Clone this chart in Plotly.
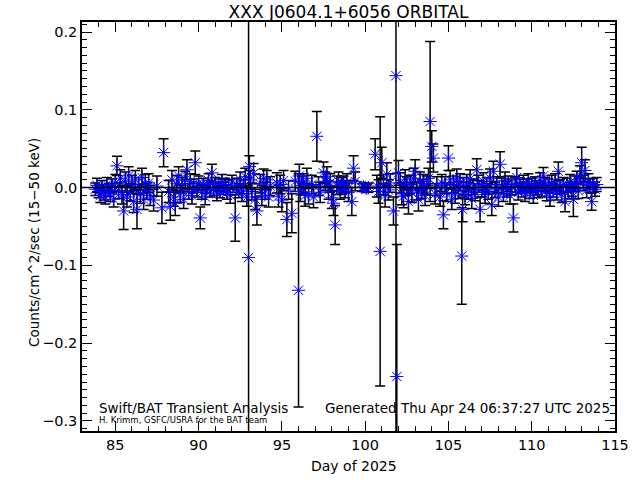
import plotly.graph_objects as go

# Day of 2025
days = [
    83.8, 83.9, 84.0, 84.1, 84.2, 84.3, 84.4, 84.5, 84.6, 84.7, 84.8, 84.9, 85.0, 85.1, 85.2, 85.3,
    85.4, 85.5, 85.6, 85.7, 85.8, 85.9, 86.0, 86.1, 86.2, 86.3, 86.4, 86.5, 86.6, 86.7, 86.8, 86.9,
    87.0, 87.1, 87.3, 87.5, 87.8, 87.9, 88.2, 88.3, 88.4,
    88.5, 88.6, 88.7, 88.8, 88.9, 89.0, 89.1, 89.2, 89.3, 89.4, 89.5, 89.6, 89.7, 89.8, 89.9, 90.0,
    90.1, 90.2, 90.3, 90.4, 90.5, 90.6, 90.7, 90.8, 90.9, 91.0, 91.1, 91.2, 91.3, 91.4, 91.5, 91.6,
    91.7, 91.8, 91.9, 92.0, 92.2, 92.3, 92.4, 92.5, 92.6, 92.7, 92.8, 92.9, 93.0, 93.05, 93.1, 93.2,
    93.3, 93.4, 93.5,
    93.7, 93.8, 93.9, 94.0, 94.1, 94.2, 94.3, 94.7, 94.8, 94.9, 95.0, 95.1, 95.3, 95.4, 95.6, 95.8,
    96.0, 96.05, 96.1, 96.2, 96.3, 96.4, 96.5, 96.6, 96.8, 96.9, 97.1, 97.2, 97.3, 97.5, 97.6, 97.7,
    97.8, 97.9, 98.0, 98.1, 98.2, 98.3, 98.4, 98.5, 98.6, 98.7, 98.8, 98.9, 99.0, 99.2, 99.3, 99.4,
    99.8, 99.9, 100.0, 100.1, 100.2, 100.6, 100.7, 100.8, 100.9, 101.0, 101.1, 101.2, 101.3, 101.4,
    101.5, 101.7, 101.85, 101.9, 102.0, 102.1, 102.2, 102.3, 102.4, 102.5, 102.6, 102.7, 102.8, 102.9,
    103.0, 103.1, 103.2, 103.3, 103.4, 103.5, 103.6, 103.7, 103.8, 103.9, 104.0, 104.1, 104.2, 104.3,
    104.5, 104.6, 104.7, 104.8, 104.9, 105.0, 105.1, 105.2, 105.3, 105.4, 105.5, 105.6, 105.7, 105.8,
    105.85, 105.9, 106.0, 106.1, 106.2, 106.3, 106.4, 106.5, 106.6, 106.7, 106.8, 106.9, 107.0, 107.1,
    107.2, 107.3, 107.4, 107.5, 107.6, 107.7, 107.8, 107.9, 108.0, 108.1, 108.2, 108.3, 108.4, 108.5,
    108.6, 108.7, 108.8, 108.9, 109.0, 109.1, 109.2, 109.3, 109.4, 109.5, 109.6, 109.7, 109.8, 109.9,
    110.0, 110.1, 110.2, 110.3, 110.4, 110.5, 110.6, 110.7, 110.8, 110.9, 111.0, 111.1, 111.2, 111.3,
    111.4, 111.5, 111.6, 111.7, 111.8, 111.9, 112.0, 112.1, 112.2, 112.3, 112.4, 112.5, 112.6, 112.7,
    112.8, 112.9, 113.0, 113.1, 113.2, 113.3, 113.4, 113.5, 113.6, 113.7, 113.8, 113.9,
]

# Counts/cm^2/sec (15-50 keV)
rates = [
    -0.002, 0.003, -0.005, -0.010, 0.001, -0.006, -0.012, 0.004, -0.003, -0.008, 0.002, -0.015, 0.006, 0.028, -0.004, 0.012,
    -0.009, -0.030, 0.008, -0.012, 0.015, -0.006, 0.004, -0.018, 0.010, -0.028, 0.002, -0.008, 0.013, -0.015, 0.005, -0.004,
    0.006, -0.010, -0.016, 0.002, -0.026, 0.045, -0.005, -0.024, 0.010,
    -0.012, -0.020, 0.005, 0.015, -0.008, 0.003, -0.015, 0.010, 0.023, -0.005, 0.008, -0.010, 0.002, 0.032, -0.003, 0.006,
    -0.039, -0.006, 0.004, -0.012, 0.001, 0.009, -0.004, 0.019, -0.002, 0.005, -0.008, 0.003, -0.005, 0.008, -0.001, 0.004,
    -0.006, 0.002, -0.010, 0.007, -0.039, 0.003, -0.004, 0.010, -0.008, 0.001, 0.014, -0.012, -0.090, 0.027, 0.010, -0.005,
    0.018, -0.015, -0.030,
    0.005, -0.010, 0.012, -0.004, 0.010, -0.012, 0.002, 0.006, -0.011, 0.004, -0.016, 0.009, -0.041, -0.003, -0.033, 0.008,
    -0.132, 0.015, -0.005, 0.003, 0.006, -0.010, 0.012, -0.008, 0.004, -0.012, 0.066, 0.002, -0.006, 0.019, 0.008, 0.014,
    -0.003, 0.006, -0.013, -0.020, -0.048, 0.003, 0.008, -0.004, 0.002, 0.004, -0.002, 0.006, -0.006, -0.018, 0.025, 0.008,
    0.000, 0.001, 0.000, -0.001, 0.000, 0.043, 0.002, -0.005, -0.082, 0.032, 0.004, -0.010, 0.017, -0.003,
    0.006, -0.030, 0.144, -0.243, 0.019, 0.006, -0.008, -0.011, 0.010, 0.002, -0.018, 0.004, -0.006, 0.012,
    0.021, -0.004, -0.015, 0.008, -0.002, 0.005, -0.010, 0.003, 0.012, 0.085, 0.053, 0.038, -0.008, 0.002,
    -0.012, 0.006, -0.035, 0.003, -0.006, 0.038, 0.010, -0.015, 0.004, -0.008, 0.012, -0.003, 0.007, -0.088,
    -0.028, 0.002, -0.010, 0.006, -0.004, 0.011, -0.014, 0.001, -0.006, 0.023, 0.005, -0.028, -0.002, 0.008,
    -0.009, 0.003, -0.005, 0.012, -0.022, 0.021, -0.003, 0.004, -0.012, 0.030, 0.002, -0.007, 0.009, -0.002,
    0.005, -0.010, 0.001, -0.039, 0.004, 0.013, -0.006, 0.002, -0.003, 0.006, -0.008, 0.002, 0.008, -0.005,
    0.003, -0.010, 0.005, 0.000, -0.004, 0.009, -0.002, 0.015, 0.004, -0.007, 0.002, -0.013, 0.006, -0.003,
    0.008, -0.006, 0.021, 0.001, -0.009, 0.004, -0.018, 0.003, -0.005, 0.007, -0.002, -0.015, 0.005, 0.010,
    -0.004, 0.016, 0.032, 0.006, 0.022, -0.003, 0.008, 0.002, -0.018, 0.003, -0.002, 0.004,
]

# 1-sigma errors
errors = [
    0.008, 0.009, 0.008, 0.009, 0.008, 0.010, 0.009, 0.009, 0.008, 0.010, 0.009, 0.010, 0.011, 0.0125, 0.010, 0.011,
    0.012, 0.024, 0.012, 0.013, 0.012, 0.011, 0.012, 0.014, 0.012, 0.025, 0.011, 0.012, 0.012, 0.013, 0.012, 0.011,
    0.012, 0.013, 0.014, 0.013, 0.020, 0.018, 0.014, 0.018, 0.012,
    0.012, 0.016, 0.011, 0.012, 0.011, 0.010, 0.012, 0.011, 0.013, 0.010, 0.010, 0.011, 0.009, 0.015, 0.009, 0.009,
    0.014, 0.009, 0.008, 0.010, 0.008, 0.009, 0.008, 0.011, 0.008, 0.008, 0.009, 0.008, 0.008, 0.009, 0.008, 0.008,
    0.009, 0.008, 0.010, 0.009, 0.030, 0.009, 0.009, 0.010, 0.010, 0.009, 0.011, 0.012, 0.36, 0.014, 0.012, 0.011,
    0.013, 0.013, 0.018,
    0.012, 0.013, 0.012, 0.011, 0.012, 0.013, 0.012, 0.013, 0.014, 0.012, 0.015, 0.013, 0.022, 0.012, 0.025, 0.013,
    0.150, 0.015, 0.013, 0.012, 0.012, 0.014, 0.013, 0.013, 0.012, 0.014, 0.032, 0.012, 0.013, 0.014, 0.012, 0.013,
    0.012, 0.012, 0.014, 0.016, 0.025, 0.012, 0.012, 0.011, 0.011, 0.011, 0.011, 0.012, 0.012, 0.018, 0.016, 0.012,
    0.005, 0.005, 0.005, 0.005, 0.006, 0.020, 0.014, 0.015, 0.173, 0.020, 0.013, 0.015, 0.015, 0.013,
    0.012, 0.018, 0.470, 0.170, 0.016, 0.013, 0.014, 0.015, 0.013, 0.012, 0.016, 0.012, 0.013, 0.013,
    0.015, 0.012, 0.015, 0.012, 0.012, 0.012, 0.013, 0.012, 0.013, 0.103, 0.020, 0.018, 0.013, 0.012,
    0.012, 0.011, 0.018, 0.011, 0.012, 0.016, 0.012, 0.013, 0.011, 0.012, 0.012, 0.011, 0.011, 0.062,
    0.016, 0.011, 0.012, 0.011, 0.011, 0.012, 0.013, 0.010, 0.011, 0.014, 0.011, 0.016, 0.010, 0.011,
    0.011, 0.010, 0.010, 0.012, 0.014, 0.013, 0.010, 0.010, 0.012, 0.016, 0.010, 0.011, 0.011, 0.010,
    0.010, 0.011, 0.010, 0.018, 0.010, 0.012, 0.010, 0.009, 0.009, 0.010, 0.010, 0.009, 0.010, 0.009,
    0.009, 0.010, 0.009, 0.009, 0.009, 0.010, 0.009, 0.011, 0.009, 0.010, 0.009, 0.011, 0.010, 0.009,
    0.010, 0.010, 0.012, 0.009, 0.010, 0.009, 0.013, 0.009, 0.009, 0.010, 0.009, 0.022, 0.010, 0.011,
    0.010, 0.012, 0.020, 0.010, 0.014, 0.010, 0.010, 0.009, 0.011, 0.009, 0.009, 0.009,
]

x_ticks = [85, 90, 95, 100, 105, 110, 115]
y_ticks = [-0.3, -0.2, -0.1, 0.0, 0.1, 0.2]

FONT = "DejaVu Sans"

fig = go.Figure()
fig.add_trace(go.Scatter(
    x=days, y=rates, mode="markers",
    marker=dict(symbol="asterisk-open", size=11, color="blue",
                line=dict(color="blue", width=1)),
    error_y=dict(type="data", array=errors, color="black", thickness=1.5, width=5),
    showlegend=False,
))

axis_common = dict(
    showline=True, linecolor="black", linewidth=1.5, mirror="allticks",
    ticks="inside", ticklen=10, tickwidth=1, tickcolor="black",
    showgrid=False, zeroline=False, automargin=False,
    tickfont=dict(family=FONT, size=14.5, color="black"),
)

fig.update_xaxes(
    range=[83, 115], tickvals=x_ticks,
    minor=dict(dtick=1, ticks="inside", ticklen=5, tickcolor="black", showgrid=False),
    **axis_common,
)
fig.update_yaxes(
    range=[-0.313, 0.213], tickvals=y_ticks, tickformat=".1f",
    minor=dict(dtick=0.01, tick0=0, ticks="inside", ticklen=5, tickcolor="black", showgrid=False),
    **axis_common,
)

fig.add_shape(type="line", xref="paper", yref="y", x0=0, x1=1, y0=0, y1=0,
              line=dict(color="black", width=1.5))

# axis titles
fig.add_annotation(text="Day of 2025", xref="paper", yref="paper",
                   x=0.51, y=-0.086, xanchor="center", yanchor="middle", showarrow=False,
                   font=dict(family=FONT, size=14, color="black"))
fig.add_annotation(text="Counts/cm^2/sec (15\u221250 keV)", xref="paper", yref="paper",
                   x=-0.09, y=0.46, xanchor="center", yanchor="middle", showarrow=False,
                   textangle=-90, font=dict(family=FONT, size=13.5, color="black"))

fig.add_annotation(text="Swift/BAT Transient Analysis", xref="paper", yref="paper",
                   x=0.028, y=0.056, xanchor="left", yanchor="middle", showarrow=False,
                   font=dict(family=FONT, size=13.5, color="black"))
fig.add_annotation(text="Generated Thu Apr 24 06:37:27 UTC 2025", xref="paper", yref="paper",
                   x=0.994, y=0.056, xanchor="right", yanchor="middle", showarrow=False,
                   font=dict(family=FONT, size=13.5, color="black"))
fig.add_annotation(text="H. Krimm, GSFC/USRA for the BAT team", xref="paper", yref="paper",
                   x=0.028, y=0.027, xanchor="left", yanchor="middle", showarrow=False,
                   font=dict(family=FONT, size=8.5, color="black"))

fig.update_layout(
    width=640, height=480,
    margin=dict(l=82, r=25, t=22, b=49),
    paper_bgcolor="white", plot_bgcolor="white",
    title=dict(text="XXX J0604.1+6056 ORBITAL", x=0.5, xref="paper", y=0.975, yanchor="middle",
               font=dict(family=FONT, size=17, color="black")),
)

fig.write_html("out.html", config={"displayModeBar": False},
               post_script="document.body.style.margin='0';")
